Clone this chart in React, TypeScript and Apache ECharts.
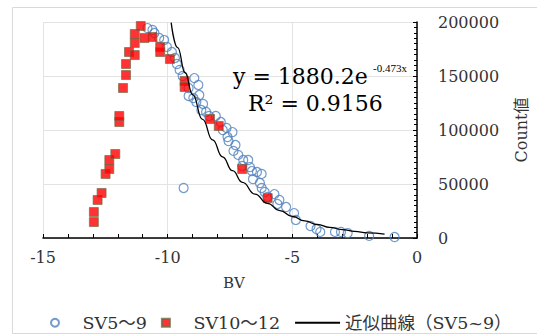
import React, { useEffect, useRef } from "react";
import * as echarts from "echarts";

// SV5～9 (blue open circles)
const SV59_BV = [
  -10.81, -10.61, -10.53, -10.34, -10.14, -10.03, -9.83, -9.71, -9.63, -9.52, -9.4,
  -8.93, -8.77, -9.16, -9.16, -8.97, -8.73, -8.85, -8.58, -8.65, -8.46, -8.34, -8.07,
  -7.87, -7.79, -7.64, -7.6, -7.4, -7.56, -7.28, -7.36, -7.17, -6.97, -6.77, -7.01,
  -6.7, -6.62, -6.42, -6.23, -6.58, -6.3, -6.23, -6.11, -5.99, -5.72, -5.52, -5.6,
  -5.25, -4.93, -4.86, -4.27, -4.03, -3.88, -3.29, -3.05, -2.78, -1.92, -0.9, -9.36,
];
const SV59_COUNT = [
  194400, 192600, 189800, 185200, 183300, 176900, 172200, 166700, 161100, 155600, 150000,
  148100, 141700, 138900, 131500, 129600, 132400, 125900, 124100, 118500, 116700, 113000, 113000,
  107400, 100000, 101900, 93500, 98100, 89800, 86100, 80600, 76900, 72200, 72200, 66700,
  65700, 62000, 61100, 59300, 54600, 50900, 46300, 42600, 38000, 40700, 35200, 31500,
  28700, 23100, 16700, 11100, 8300, 5600, 5600, 5600, 4600, 1900, 900, 46300,
];

// SV10～12 (red squares)
const SV1012_BV = [
  -12.96, -12.96, -12.81, -12.65, -12.49, -12.34, -12.34, -12.1, -11.94, -11.94, -11.79,
  -11.67, -11.67, -11.55, -11.32, -11.32, -11.32, -11.08, -10.93, -10.61, -10.3, -10.3,
  -9.91, -9.32, -9.32, -8.3, -7.95, -7.01, -5.99,
];
const SV1012_COUNT = [
  14800, 24100, 35200, 41700, 59300, 63900, 72200, 77800, 107400, 113000, 138900,
  150900, 161100, 172200, 169400, 180600, 188900, 196300, 185200, 186100, 176900, 172200,
  165700, 145400, 139800, 110200, 103700, 63900, 37000,
];

// 近似曲線 (SV5~9) points
const CURVE_BV = [
  -9.86, -9.6, -9.3, -9.0, -8.6, -8.2, -7.8, -7.4, -7.0, -6.5, -6.0, -5.5, -5.0,
  -4.5, -4.0, -3.5, -3.0, -2.5, -2.0, -1.3,
];
const CURVE_COUNT = [
  199400, 176300, 153000, 132700, 109800, 90900, 75200, 62300, 51500, 40700, 32100,
  25400, 20000, 15800, 12500, 9800, 7800, 6100, 4800, 3500,
];

const X_MIN = -15;
const X_MAX = 0;
const X_STEP = 5;
const Y_MIN = 0;
const Y_MAX = 200000;
const Y_STEP = 50000;

const SERIES_NAMES = ["SV5～9", "SV10～12", "近似曲線（SV5~9）"];
const EQUATION = "y = 1880.2e";
const EQUATION_EXP = "-0.473x";
const R2_TEXT = "R² = 0.9156";

const FONT = "'DejaVu Serif', 'Noto Sans CJK JP', serif";

export default function App() {
  const ref = useRef<HTMLDivElement>(null);

  useEffect(() => {
    if (!ref.current) return;
    const chart = echarts.init(ref.current, undefined, { renderer: "svg" });
    const zip = (a: number[], b: number[]) => a.map((v, i) => [v, b[i]]);

    chart.setOption({
      animation: false,
      backgroundColor: "#ffffff",
      grid: { left: 43, top: 22, right: 111, bottom: 98, containLabel: false },
      xAxis: {
        type: "value",
        min: X_MIN,
        max: X_MAX,
        interval: X_STEP,
        name: "BV",
        nameLocation: "middle",
        nameGap: 37,
        nameTextStyle: { fontFamily: FONT, fontSize: 15, color: "#333", padding: [0, 0, 0, 8] },
        axisLine: { onZero: false, lineStyle: { color: "#000", width: 1.5 } },
        axisTick: { show: true, inside: true, length: 4, lineStyle: { color: "#000" } },
        minorTick: { show: true, splitNumber: 5, length: 4, lineStyle: { color: "#000" } },
        axisLabel: { fontFamily: FONT, fontSize: 16, color: "#333", margin: 11 },
        splitLine: { show: true, lineStyle: { color: "#e3e3e3", width: 1 } },
      },
      yAxis: {
        type: "value",
        position: "right",
        min: Y_MIN,
        max: Y_MAX,
        interval: Y_STEP,
        name: "Count値",
        nameLocation: "middle",
        nameRotate: 90,
        nameGap: 96,
        nameTextStyle: { fontFamily: FONT, fontSize: 16, color: "#333" },
        axisLine: { show: true, onZero: false, lineStyle: { color: "#000", width: 1.5 } },
        axisTick: { show: true, inside: true, length: 4, lineStyle: { color: "#000" } },
        minorTick: { show: true, splitNumber: 10, length: 3, lineStyle: { color: "#000" } },
        axisLabel: {
          fontFamily: FONT,
          fontSize: 16,
          color: "#333",
          margin: 21,
          formatter: (v: number) => String(v),
        },
        splitLine: { show: true, lineStyle: { color: "#e3e3e3", width: 1 } },
      },
      legend: {
        left: 45,
        top: 309,
        itemWidth: 45,
        itemHeight: 8,
        itemGap: 14,
        symbolKeepAspect: true,
        textStyle: { fontFamily: FONT, fontSize: 17.5, color: "#333" },
        data: [
          { name: SERIES_NAMES[0], icon: "circle" },
          { name: SERIES_NAMES[1], icon: "path://M0,0H10V10H0Z" },
          { name: SERIES_NAMES[2], itemStyle: { opacity: 0 } },
        ],
      },
      series: [
        {
          name: SERIES_NAMES[0],
          type: "scatter",
          symbol: "circle",
          symbolSize: 9,
          itemStyle: { color: "rgba(255,255,255,0)", borderColor: "#4f81bd", borderWidth: 1.2 },
          data: zip(SV59_BV, SV59_COUNT),
          z: 2,
        },
        {
          name: SERIES_NAMES[1],
          type: "scatter",
          symbol: "rect",
          symbolSize: 9,
          itemStyle: { color: "#ff0000", borderColor: "#6b6b45", borderWidth: 0.8 },
          data: zip(SV1012_BV, SV1012_COUNT),
          z: 3,
        },
        {
          name: SERIES_NAMES[2],
          type: "line",
          smooth: true,
          smoothMonotone: "x",
          symbol: "none",
          lineStyle: { color: "#000", width: 1.3 },
          itemStyle: { color: "rgba(0,0,0,0)", borderColor: "rgba(0,0,0,0)", borderWidth: 0 },
          data: zip(CURVE_BV, CURVE_COUNT),
          z: 4,
        },
      ],
      graphic: [
        {
          type: "rect",
          shape: { x: 12.5, y: 7.5, width: 540, height: 326 },
          style: { fill: "none", stroke: "#d9d9d9", lineWidth: 1 },
          silent: true,
          z: -10,
        },
        {
          type: "text",
          x: 233,
          y: 76,
          style: { text: EQUATION, fontFamily: FONT, fontSize: 22, fill: "#000", verticalAlign: "middle" },
          z: 10,
        },
        {
          type: "text",
          x: 373,
          y: 68,
          style: { text: EQUATION_EXP, fontFamily: "'Liberation Serif', serif", fontSize: 11, fill: "#000", verticalAlign: "middle" },
          z: 10,
        },
        {
          type: "text",
          x: 248,
          y: 103,
          style: { text: R2_TEXT, fontFamily: FONT, fontSize: 22, fill: "#000", verticalAlign: "middle" },
          z: 10,
        },
      ],
    });
    return () => chart.dispose();
  }, []);

  return (
    <div
      ref={ref}
      style={{ position: "absolute", left: 0, top: 0, width: 537, height: 336 }}
    />
  );
}
